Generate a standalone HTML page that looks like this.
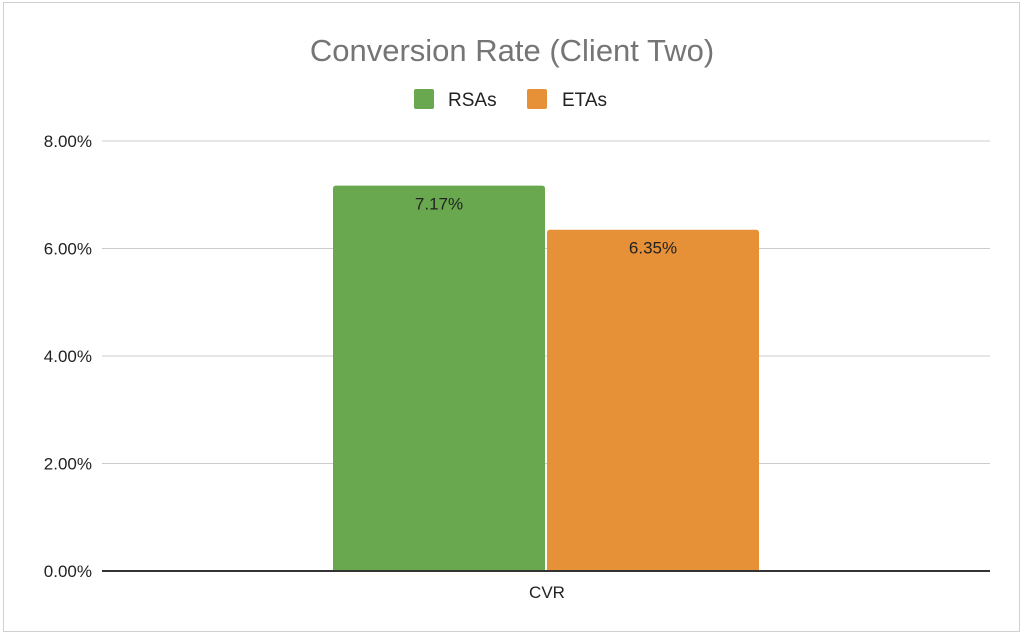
<!DOCTYPE html>
<html><head><meta charset="utf-8"><style>
html,body{margin:0;padding:0;background:#fff;}
svg{display:block;font-family:"Liberation Sans",Arial,sans-serif;}
</style></head><body>
<svg id="chart" width="1024" height="635" viewBox="0 0 1024 635">
<rect x="3.5" y="2.5" width="1016" height="629" fill="#fff" stroke="#d0d0d0"/>
<text x="512" y="61" text-anchor="middle" font-size="31" fill="#757575">Conversion Rate (Client Two)</text>
<g>
<rect x="414" y="89" width="20" height="20" rx="2" fill="#6aa84f"/>
<text x="448" y="106" font-size="19" fill="#222">RSAs</text>
<rect x="527" y="89" width="20" height="20" rx="2" fill="#e69138"/>
<text x="562" y="106" font-size="19" fill="#222">ETAs</text>
</g>
<g id="grid"></g>
<g id="bars"></g>
<line x1="102" y1="571" x2="990" y2="571" stroke="#333" stroke-width="2"/>
<text x="547" y="598" text-anchor="middle" font-size="17" fill="#222">CVR</text>
</svg>
<script>
const categories = ["CVR"];
const seriesNames = ["RSAs", "ETAs"];
const rsasValues = [7.17];
const etasValues = [6.35];
const yTicks = [0, 2, 4, 6, 8];
const yTickLabels = ["0.00%", "2.00%", "4.00%", "6.00%", "8.00%"];

const NS = "http://www.w3.org/2000/svg";
const plotLeft = 102, plotRight = 990, yBase = 571, yTop = 141, yMax = 8;
function yScale(v){ return yBase - (v / yMax) * (yBase - yTop); }
const grid = document.getElementById("grid");
yTicks.forEach((t, i) => {
  const y = yScale(t);
  if (t !== 0) {
    const ln = document.createElementNS(NS, "line");
    ln.setAttribute("x1", plotLeft); ln.setAttribute("x2", plotRight);
    ln.setAttribute("y1", y); ln.setAttribute("y2", y);
    ln.setAttribute("stroke", "#cccccc"); ln.setAttribute("stroke-width", "1");
    
    
    grid.appendChild(ln);
  }
  const tx = document.createElementNS(NS, "text");
  tx.setAttribute("x", 92); tx.setAttribute("y", y + 6);
  tx.setAttribute("text-anchor", "end"); tx.setAttribute("font-size", "17"); tx.setAttribute("fill", "#222");
  tx.textContent = yTickLabels[i];
  
  
  grid.appendChild(tx);
});
const bars = document.getElementById("bars");
const colors = ["#6aa84f", "#e69138"];
const allSeries = [rsasValues, etasValues];
const groupWidth = (plotRight - plotLeft) / categories.length;
const barW = 212, gap = 2;
categories.forEach((c, ci) => {
  const center = plotLeft + groupWidth * (ci + 0.5);
  const start = center - (barW * allSeries.length + gap * (allSeries.length - 1)) / 2;
  allSeries.forEach((vals, si) => {
    const v = vals[ci];
    const x = start + si * (barW + gap);
    const y = yScale(v);
    const r = document.createElementNS(NS, "path");
    const h = yBase - y, rr = 3;
    r.setAttribute("d", `M${x},${yBase} V${y+rr} Q${x},${y} ${x+rr},${y} H${x+barW-rr} Q${x+barW},${y} ${x+barW},${y+rr} V${yBase} Z`);
    r.setAttribute("fill", colors[si]);
    
    
    bars.appendChild(r);
    const lb = document.createElementNS(NS, "text");
    lb.setAttribute("x", x + barW / 2); lb.setAttribute("y", y + 24);
    lb.setAttribute("text-anchor", "middle"); lb.setAttribute("font-size", "17"); lb.setAttribute("fill", "#222");
    lb.textContent = v.toFixed(2) + "%";
    
    
    bars.appendChild(lb);
  });
});
</script>
</body></html>
